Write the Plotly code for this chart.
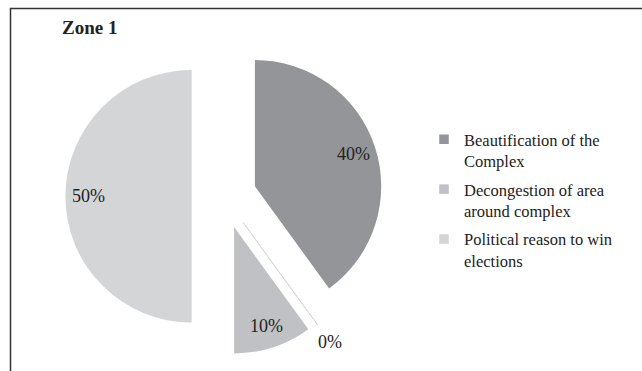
import math
import plotly.graph_objects as go

# Survey responses for Zone 1
categories = [
    "Beautification of the<br>Complex",
    "Other",
    "Decongestion of area<br>around complex",
    "Political reason to win<br>elections",
]
shares = [40, 0, 10, 50]
colors = ["#939598", "#d9d9d9", "#c0c1c4", "#d4d5d7"]
legend_categories = [categories[0], categories[2], categories[3]]
legend_colors = [colors[0], colors[2], colors[3]]

W, H = 642, 371
SERIF = "Liberation Serif, Times New Roman, serif"

# pie placement (pixels from the top-left corner)
cx, cy, radius, pull = 224.1, 196.3, 126.3, 0.2565
half_box = radius * (1 + pull)
half_w = half_box + 8

fig = go.Figure()
fig.add_trace(go.Pie(
    labels=categories,
    values=shares,
    sort=False,
    direction="clockwise",
    rotation=0,
    pull=pull,
    marker=dict(colors=colors, line=dict(color=["#ffffff", "#d9d9d9", "#ffffff", "#ffffff"],
                                         width=[0, 1, 0, 0])),
    textinfo="none",
    showlegend=False,
    hoverinfo="label+percent",
    domain=dict(
        x=[(cx - half_w) / W, (cx + half_w) / W],
        y=[(H - cy - half_box) / H, (H - cy + half_box) / H],
    ),
))

# legend entries
for i, (name, col) in enumerate(zip(legend_categories, legend_colors)):
    fig.add_trace(go.Scatter(
        x=[None], y=[None], mode="markers", name=name, legendgroup=f"g{i}",
        marker=dict(symbol="square", size=9.5, color=col),
    ))

# percentage labels placed along each slice's bisector
total = sum(shares)
annotations = []
start = 0.0
for v in shares:
    mid = math.radians((start + v / 2) / total * 360)
    start += v
    ux, uy = math.sin(mid), -math.cos(mid)
    k = 0.82 if v > 0 else 1.17
    px = cx + (pull + k) * radius * ux
    py = cy + (pull + k) * radius * uy
    annotations.append(dict(
        text=f"{v}%", x=px / W, y=1 - py / H, xref="paper", yref="paper",
        xanchor="center", yanchor="middle", showarrow=False,
        font=dict(family=SERIF, size=18, color="#222222"),
    ))

annotations.append(dict(
    text="<b>Zone 1</b>", x=60 / W, y=1 - 27 / H, xref="paper", yref="paper",
    xanchor="left", yanchor="middle", showarrow=False,
    font=dict(family=SERIF, size=19, color="#222222"),
))

fig.update_layout(
    width=W, height=H,
    margin=dict(l=0, r=0, t=0, b=0, autoexpand=False),
    paper_bgcolor="white",
    plot_bgcolor="white",
    xaxis=dict(visible=False),
    yaxis=dict(visible=False),
    legend=dict(
        x=424 / W, y=1 - 122 / H, xanchor="left", yanchor="top",
        font=dict(family=SERIF, size=16.5, color="#222222"),
        valign="top", traceorder="grouped", tracegroupgap=4, itemclick=False,
        bgcolor="rgba(0,0,0,0)",
    ),
    annotations=annotations,
    shapes=[dict(
        type="path", xref="paper", yref="paper",
        path=f"M {10.5 / W},{-0.01} L {10.5 / W},{1 - 8.5 / H} L 1.01,{1 - 8.5 / H}",
        line=dict(color="#333333", width=1.5),
    )],
)

fig.write_html("out.html")
